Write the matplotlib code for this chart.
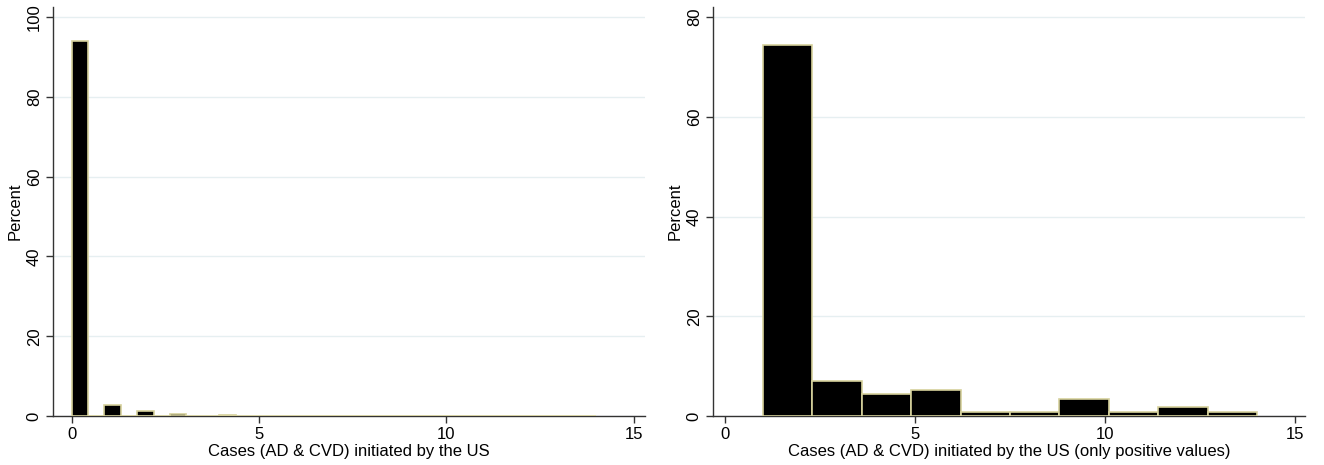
import matplotlib
matplotlib.use("Agg")
import matplotlib.pyplot as plt

plt.rcParams['font.family'] = ['Liberation Sans', 'DejaVu Sans']

# Left: all cases (values 0..14), percent of observations per value
left_values = [0, 1, 2, 3, 4, 5, 6, 7, 8, 9, 10, 11, 12, 14]
left_percent = [94.0, 2.9, 1.25, 0.42, 0.27, 0.16, 0.16, 0.05, 0.05, 0.1, 0.1, 0.05, 0.1, 0.05]
left_bins = 32
left_range = (0, 14)

# Right: only positive values, percent per value
right_values = [1, 3, 4, 5, 7, 8, 9, 11, 12, 14]
right_percent = [74.3, 7.1, 4.4, 5.3, 0.9, 0.9, 3.5, 0.9, 1.8, 0.9]
right_bins = 10
right_range = (1, 14)

xlabels = ["Cases (AD & CVD) initiated by the US",
           "Cases (AD & CVD) initiated by the US (only positive values)"]
xticks = [0, 5, 10, 15]
left_yticks = [0, 20, 40, 60, 80, 100]
right_yticks = [0, 20, 40, 60, 80]

fig = plt.figure(figsize=(13.24, 4.65), dpi=100)
ax1 = fig.add_axes([0.040, 0.105, 0.447, 0.880])
ax2 = fig.add_axes([0.5385, 0.105, 0.447, 0.880])

bar_fc = 'black'
bar_ec = '#d6d19c'
grid_c = '#e6eff1'

for ax, vals, pct, nb, rng, yt, ytop, xl, xlim in [
    (ax1, left_values, left_percent, left_bins, left_range, left_yticks, 102.5, xlabels[0], (-0.5, 15.3)),
    (ax2, right_values, right_percent, right_bins, right_range, right_yticks, 82.0, xlabels[1], (-0.32, 15.26)),
]:
    ax.hist(vals, bins=nb, range=rng, weights=pct, facecolor=bar_fc,
            edgecolor=bar_ec, linewidth=1.2, zorder=3)
    ax.set_xlim(*xlim)
    ax.set_ylim(0, ytop)
    ax.set_xticks(xticks)
    ax.set_yticks(yt)
    ax.yaxis.grid(True, color=grid_c, linewidth=1.0, zorder=0)
    ax.set_axisbelow(True)
    for s in ['top', 'right']:
        ax.spines[s].set_visible(False)
    for s in ['left', 'bottom']:
        ax.spines[s].set_color('#333333')
        ax.spines[s].set_linewidth(1.0)
        ax.spines[s].set_zorder(2)
    ax.tick_params(axis='both', direction='out', length=5, width=1.0,
                   color='#333333', labelsize=12, labelcolor='black', pad=3)
    for lab in ax.get_yticklabels():
        lab.set_rotation(90)
        lab.set_va('center')
    ax.set_ylabel("Percent", fontsize=12, labelpad=3)
    ax.set_xlabel(xl, fontsize=12, labelpad=1)

fig.savefig("out.png", dpi=100)
